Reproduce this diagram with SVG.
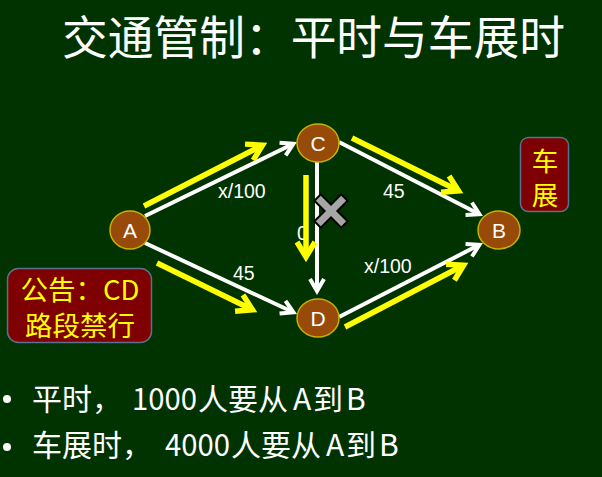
<svg xmlns="http://www.w3.org/2000/svg" width="602" height="477" viewBox="0 0 602 477">
<style>
.bg{fill:#003300}
.title{font-family:"Noto Sans CJK SC","Noto Sans",sans-serif;font-size:46px;fill:#ffffff}
.bullet{font-family:"Noto Sans CJK SC","Noto Sans",sans-serif;font-size:30px;fill:#ffffff}
.dot{fill:#ffffff}
.node ellipse{fill:#984a08;stroke:#c8b000;stroke-width:1.5}
.node text{font-family:"Liberation Sans",Arial,sans-serif;font-size:21px;fill:#ffffff;text-anchor:middle}
.wl{stroke:#ffffff;stroke-width:4;fill:none;marker-end:url(#aw)}
.yl{stroke:#ffff00;stroke-width:5.5;fill:none;marker-end:url(#ay)}
.lbl{font-family:"Liberation Sans",Arial,sans-serif;font-size:19.5px;fill:#ffffff}
.box rect{fill:#7f0000;stroke:#5a7090;stroke-width:1.5}
.box text{font-family:"Noto Sans CJK SC","Noto Sans",sans-serif;fill:#ffff00;text-anchor:middle}
</style>
<defs>
<marker id="aw" markerUnits="userSpaceOnUse" markerWidth="30" markerHeight="30" refX="20" refY="15" orient="auto" overflow="visible">
<path d="M8,8 L20,15 L8,22" fill="none" stroke="#ffffff" stroke-width="4"/>
</marker>
<marker id="ay" markerUnits="userSpaceOnUse" markerWidth="34" markerHeight="34" refX="22" refY="17" orient="auto" overflow="visible">
<path d="M7,8 L22,17 L7,26" fill="none" stroke="#ffff00" stroke-width="5.5"/>
</marker>
</defs>
<rect class="bg" x="0" y="0" width="602" height="477"/>
<text class="title" x="62" y="54" textLength="503" lengthAdjust="spacingAndGlyphs">交通管制：平时与车展时</text>

<g id="edge-labels">
<text class="lbl" x="218" y="198">x/100</text>
<text class="lbl" x="233" y="280">45</text>
<text class="lbl" x="383" y="198">45</text>
<text class="lbl" x="364" y="273">x/100</text>
<text class="lbl" x="297" y="240">0</text>
</g>

<g id="connectors">
<line class="wl" x1="145" y1="216" x2="293.4" y2="143.8"/>
<line class="wl" x1="145" y1="243" x2="293.4" y2="312.3"/>
<line class="wl" x1="339" y1="142" x2="479.4" y2="214.2"/>
<line class="wl" x1="339" y1="317" x2="479.4" y2="244.8"/>
<line class="wl" x1="317" y1="162" x2="317" y2="291"/>
<line class="yl" x1="144" y1="206" x2="262.5" y2="145.3"/>
<line class="yl" x1="157" y1="263" x2="252.5" y2="309.8"/>
<line class="yl" x1="352" y1="138" x2="458.5" y2="190.8"/>
<line class="yl" x1="345" y1="327" x2="463.6" y2="265.3"/>
<line class="yl" x1="306" y1="175" x2="306" y2="257"/>
</g>

<g id="blocked">
<polygon transform="translate(331,211) rotate(45)" points="4.5,-19 4.5,-4.5 19,-4.5 19,4.5 4.5,4.5 4.5,19 -4.5,19 -4.5,4.5 -19,4.5 -19,-4.5 -4.5,-4.5 -4.5,-19" fill="#a6a6a6" stroke="#000000" stroke-width="2" stroke-linejoin="miter"/>
</g>

<g id="node-A" class="node"><ellipse cx="130" cy="230" rx="20" ry="19"/><text x="130" y="237.5">A</text></g>
<g id="node-C" class="node"><ellipse cx="318" cy="143" rx="21" ry="19"/><text x="318" y="150.5">C</text></g>
<g id="node-D" class="node"><ellipse cx="318" cy="318" rx="21" ry="19"/><text x="318" y="325.5">D</text></g>
<g id="node-B" class="node"><ellipse cx="499" cy="230" rx="21" ry="19"/><text x="499" y="237.5">B</text></g>

<g id="notice" class="box">
<rect x="7.5" y="268.5" width="144" height="74" rx="11"/>
<text x="80" y="300" font-size="27.5">公告：CD</text>
<text x="80" y="336" font-size="27.5">路段禁行</text>
</g>
<g id="carshow" class="box">
<rect x="520.5" y="137.5" width="48" height="74" rx="8"/>
<text x="545" y="171" font-size="26.5">车</text>
<text x="545" y="205" font-size="26.5">展</text>
</g>

<g id="bullets">
<circle class="dot" cx="7" cy="399" r="4"/>
<text class="bullet" y="410"><tspan x="32">平时，</tspan><tspan x="132" textLength="65" lengthAdjust="spacingAndGlyphs">1000</tspan><tspan x="198">人要从</tspan><tspan x="293">A</tspan><tspan x="313">到</tspan><tspan x="346">B</tspan></text>
<circle class="dot" cx="7" cy="447" r="4"/>
<text class="bullet" y="456"><tspan x="32">车展时，</tspan><tspan x="165" textLength="65" lengthAdjust="spacingAndGlyphs">4000</tspan><tspan x="231">人要从</tspan><tspan x="326">A</tspan><tspan x="346">到</tspan><tspan x="379">B</tspan></text>
</g>
</svg>
